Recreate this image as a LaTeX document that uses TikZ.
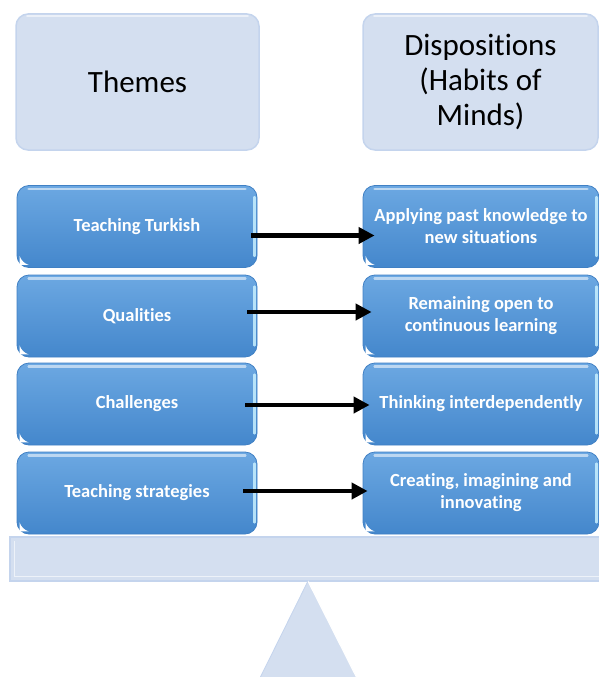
\documentclass[tikz,border=0pt]{standalone}
\usepackage{fontspec}
\setmainfont{Carlito}[Ligatures={NoCommon}]
\usetikzlibrary{arrows.meta}
\definecolor{headfill}{RGB}{212,223,240}
\definecolor{headedge}{RGB}{196,212,237}
\definecolor{blueT}{RGB}{108,168,226}
\definecolor{blueB}{RGB}{68,135,204}
\definecolor{blueedge}{RGB}{64,128,196}
\definecolor{glow}{RGB}{200,240,255}
\tikzset{
  headbox/.style={draw=headedge, line width=1.5pt, fill=headfill, rounded corners=12pt,
    minimum height=136pt, inner sep=0pt, align=center, text=black,
    font=\fontsize{31}{35}\selectfont},
  bluebox/.style={draw=blueedge, line width=0.8pt, rounded corners=12pt,
    top color=blueT, bottom color=blueB, minimum height=82pt, inner sep=0pt,
    align=center, text=white, font=\bfseries\fontsize{18.5}{22}\selectfont},
  beambox/.style={draw=headedge, line width=1.5pt, fill=headfill, minimum height=44pt,
    inner sep=0pt},
  arr/.style={line width=4.5pt, -{Triangle[length=16pt,width=16pt]}, black},
  hilite/.style={white, opacity=0.55, line width=2.5pt, line cap=round},
  sidelite/.style={glow, opacity=0.85, line width=2.5pt, line cap=round}
}
\newcommand{\boxfx}[1]{%
  \draw[hilite] ([xshift=12pt,yshift=-4pt]#1.north west) -- ([xshift=-12pt,yshift=-4pt]#1.north east);
  \draw[sidelite] ([xshift=-3pt,yshift=-12pt]#1.north east) -- ([xshift=-3pt,yshift=12pt]#1.south east);
  \fill[white] ([xshift=3pt,yshift=3pt]#1.south west) -- ++(0,-9) to[bend right=25] ++(9,9) -- cycle;
}
\begin{document}
\begin{tikzpicture}[x=1pt,y=-1pt]
\useasboundingbox (0,0) rectangle (599,677);
% headings
\node[headbox, minimum width=243pt] (themes) at (137.5,82) {Themes};
\node[headbox, minimum width=235pt] (disp) at (480.5,82) {Dispositions\\(Habits of\\Minds)};
\draw[hilite] ([xshift=12pt,yshift=-3pt]themes.north west) -- ([xshift=-12pt,yshift=-3pt]themes.north east);
\draw[hilite] ([xshift=12pt,yshift=-3pt]disp.north west) -- ([xshift=-12pt,yshift=-3pt]disp.north east);
% left boxes
\node[bluebox, minimum width=240pt] (l1) at (137,226.5) {Teaching Turkish};
\node[bluebox, minimum width=240pt] (l2) at (137,316) {Qualities};
\node[bluebox, minimum width=240pt] (l3) at (137,404) {Challenges};
\node[bluebox, minimum width=240pt] (l4) at (137,493) {Teaching strategies};
% right boxes
\node[bluebox, minimum width=236pt] (r1) at (481,226.5) {Applying past knowledge to\\new situations};
\node[bluebox, minimum width=236pt] (r2) at (481,316) {Remaining open to\\continuous learning};
\node[bluebox, minimum width=236pt] (r3) at (481,404) {Thinking interdependently};
\node[bluebox, minimum width=236pt] (r4) at (481,493) {Creating, imagining and\\innovating};
\foreach \n in {l1,l2,l3,l4,r1,r2,r3,r4}{\boxfx{\n}}
% arrows
\draw[arr] ([shift={(-6,9)}]l1.east) -- ([shift={(12,9)}]r1.west);
\draw[arr] ([shift={(-10,-4)}]l2.east) -- ([shift={(9,-4)}]r2.west);
\draw[arr] ([shift={(-12,1)}]l3.east) -- ([shift={(7,1)}]r3.west);
\draw[arr] ([shift={(-14,-2)}]l4.east) -- ([shift={(5,-2)}]r4.west);
% seesaw
\node[beambox, minimum width=600pt] (beam) at (310,559) {};
\draw[white, opacity=0.6, line width=1pt] ([shift={(5,5)}]beam.north west) -- ([shift={(5,-5)}]beam.south west) -- ([shift={(-5,-5)}]beam.south east);
\coordinate (apex) at (308,581);
\fill[headfill] (apex) -- (254,690) -- (363,690) -- cycle;
\draw[white, line width=1.2pt] (apex) -- (363,690);
\draw[headedge, line width=0.8pt] (apex) -- (254,690);
\end{tikzpicture}
\end{document}
